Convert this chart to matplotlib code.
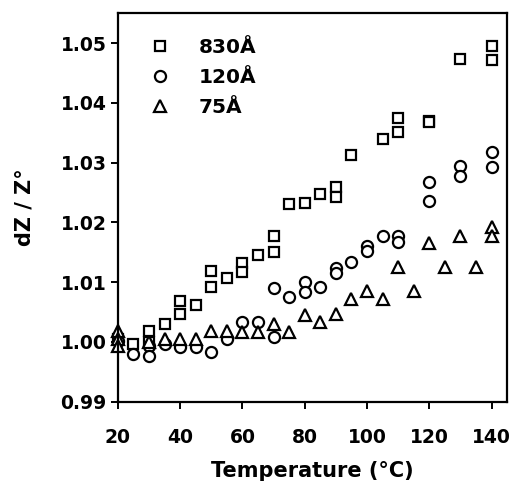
import matplotlib
matplotlib.use("Agg")
import matplotlib.pyplot as plt

plt.rcParams['font.family'] = ['DejaVu Sans']
plt.rcParams['font.weight'] = 'bold'

# 830 Å (squares)
t_830 = [20, 25, 30, 30, 35, 40, 40, 45, 50, 50, 55, 60, 60, 65, 70, 70, 75, 80, 85, 90, 90,
         95, 105, 110, 110, 120, 120, 130, 140, 140]
z_830 = [1.0005, 0.9997, 1.0018, 1.0000, 1.0030, 1.0068, 1.0047, 1.0062, 1.0118, 1.0092,
         1.0107, 1.0132, 1.0117, 1.0145, 1.0177, 1.0150, 1.0230, 1.0232, 1.0247, 1.0260,
         1.0243, 1.0313, 1.0340, 1.0375, 1.0352, 1.0370, 1.0368, 1.0473, 1.0495, 1.0472]

# 120 Å (circles)
t_120 = [20, 25, 30, 30, 35, 40, 45, 50, 55, 60, 65, 70, 70, 75, 80, 80, 85, 90, 90, 95,
         100, 100, 105, 110, 110, 120, 120, 130, 130, 140, 140]
z_120 = [1.0002, 0.9980, 0.9993, 0.9977, 0.9997, 0.9992, 0.9992, 0.9983, 1.0005, 1.0033,
         1.0033, 1.0090, 1.0008, 1.0075, 1.0100, 1.0083, 1.0092, 1.0123, 1.0115, 1.0133,
         1.0160, 1.0152, 1.0177, 1.0177, 1.0167, 1.0268, 1.0235, 1.0295, 1.0277, 1.0318,
         1.0293]

# 75 Å (triangles)
t_75 = [20, 20, 20, 30, 35, 40, 45, 50, 55, 60, 65, 70, 75, 80, 85, 90, 95, 100, 105, 110,
        115, 120, 125, 130, 135, 140, 140]
z_75 = [1.0018, 1.0005, 0.9993, 1.0000, 1.0005, 1.0005, 1.0005, 1.0018, 1.0018, 1.0017,
        1.0017, 1.0030, 1.0017, 1.0045, 1.0033, 1.0047, 1.0072, 1.0085, 1.0072, 1.0125,
        1.0085, 1.0165, 1.0125, 1.0178, 1.0125, 1.0192, 1.0178]

labels = ['830Å', '120Å', '75Å']
x_ticks = [20, 40, 60, 80, 100, 120, 140]
y_ticks = [0.99, 1.00, 1.01, 1.02, 1.03, 1.04, 1.05]

fig = plt.figure(figsize=(5.17, 4.87), dpi=100)
ax = fig.add_axes([0.228, 0.175, 0.753, 0.798])

mk = dict(linestyle='none', markerfacecolor='white', markeredgecolor='black',
          markeredgewidth=1.6, color='black', clip_on=False)
ax.plot(t_830, z_830, marker='s', markersize=7.5, label=labels[0], **mk)
ax.plot(t_120, z_120, marker='o', markersize=8, label=labels[1], **mk)
ax.plot(t_75, z_75, marker='^', markersize=9, label=labels[2], **mk)

ax.set_xlim(20, 145)
ax.set_ylim(0.99, 1.055)
ax.set_xticks(x_ticks)
ax.set_yticks(y_ticks)
ax.set_yticklabels([f'{v:.2f}' for v in y_ticks])

for s in ax.spines.values():
    s.set_linewidth(1.6)
ax.tick_params(axis='both', which='both', direction='out', length=5, width=1.4,
               labelsize=13.5, top=False, right=False)
ax.tick_params(axis='x', pad=14)
ax.tick_params(axis='y', pad=3)
for lab in ax.get_xticklabels() + ax.get_yticklabels():
    lab.set_fontweight('bold')

ax.set_xlabel('Temperature (°C)', fontsize=15, fontweight='bold', labelpad=10)
ax.set_ylabel('dZ / Z°', fontsize=15, fontweight='bold')
ax.yaxis.set_label_coords(-0.213, 0.5)

leg = ax.legend(loc='upper left', bbox_to_anchor=(0.045, 0.967), frameon=False,
                handletextpad=1.35, labelspacing=0.55, borderaxespad=0.2,
                handlelength=1.2, prop={'weight': 'bold', 'size': 14.5})

fig.savefig('out.png', dpi=100)
